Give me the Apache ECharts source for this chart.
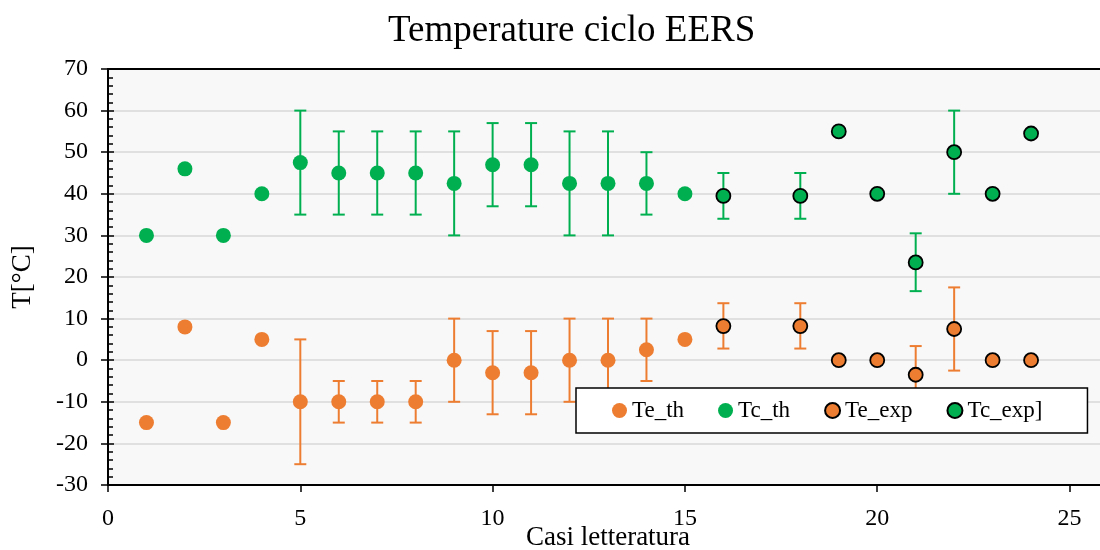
<!DOCTYPE html>
<html>
<head>
<meta charset="utf-8">
<script src="https://cdn.jsdelivr.net/npm/echarts@6/dist/echarts.min.js"></script>
<style>html,body{margin:0;padding:0;background:#fff}#c{width:1100px;height:550px}</style>
</head>
<body>
<div id="c"></div>
<script>
// x positions (case number), value, upper error end, lower error end (null = no error bar)
const teThX   = [1, 2, 3, 4, 5, 6, 7, 8, 9, 10, 11, 12, 13, 14, 15];
const teThY   = [-15, 8, -15, 5, -10, -10, -10, -10, 0, -3, -3, 0, 0, 2.5, 5];
const teThHi  = [null, null, null, null, 5, -5, -5, -5, 10, 7, 7, 10, 10, 10, null];
const teThLo  = [null, null, null, null, -25, -15, -15, -15, -10, -13, -13, -10, -10, -5, null];

const tcThX   = [1, 2, 3, 4, 5, 6, 7, 8, 9, 10, 11, 12, 13, 14, 15];
const tcThY   = [30, 46, 30, 40, 47.5, 45, 45, 45, 42.5, 47, 47, 42.5, 42.5, 42.5, 40];
const tcThHi  = [null, null, null, null, 60, 55, 55, 55, 55, 57, 57, 55, 55, 50, null];
const tcThLo  = [null, null, null, null, 35, 35, 35, 35, 30, 37, 37, 30, 30, 35, null];

const teExpX  = [16, 18, 19, 20, 21, 22, 23, 24];
const teExpY  = [8.2, 8.2, 0, 0, -3.5, 7.5, 0, 0];
const teExpHi = [13.7, 13.7, null, null, 3.4, 17.5, null, null];
const teExpLo = [2.8, 2.8, null, null, -10.4, -2.5, null, null];

const tcExpX  = [16, 18, 19, 20, 21, 22, 23, 24];
const tcExpY  = [39.5, 39.5, 55, 40, 23.5, 50, 40, 54.5];
const tcExpHi = [45, 45, null, null, 30.5, 60, null, null];
const tcExpLo = [34, 34, null, null, 16.6, 40, null, null];

const seriesNames = ['Te_th', 'Tc_th', 'Te_exp', 'Tc_exp]'];
const yTicks = {min: -30, max: 70, interval: 10};
const xTicks = {min: 0, max: 26, interval: 5};

const ORANGE = '#ED7D31', GREEN = '#00B050';
const FONT = '"Liberation Serif", "Times New Roman", serif';

function pts(xs, ys) { return xs.map((x, i) => [x, ys[i]]); }
function errs(xs, hi, lo) {
  const out = [];
  xs.forEach((x, i) => { if (hi[i] !== null) out.push([x, lo[i], hi[i]]); });
  return out;
}
function errSeries(data, color) {
  return {
    type: 'custom', data: data, z: 1, silent: true,
    renderItem: function (params, api) {
      const x = api.value(0);
      const p1 = api.coord([x, api.value(1)]);
      const p2 = api.coord([x, api.value(2)]);
      const w = 6;
      const st = {stroke: color, lineWidth: 2};
      return {type: 'group', children: [
        {type: 'line', shape: {x1: p1[0], y1: p1[1], x2: p2[0], y2: p2[1]}, style: st},
        {type: 'line', shape: {x1: p1[0]-w, y1: p1[1], x2: p1[0]+w, y2: p1[1]}, style: st},
        {type: 'line', shape: {x1: p2[0]-w, y1: p2[1], x2: p2[0]+w, y2: p2[1]}, style: st}
      ]};
    }
  };
}
function scatter(name, data, color, bordered) {
  return {
    name: name, type: 'scatter', data: data, z: 5,
    symbol: 'circle', symbolSize: bordered ? 14 : 15,
    itemStyle: bordered ? {color: color, borderColor: '#000', borderWidth: 1.8, opacity: 1}
                        : {color: color, opacity: 1}
  };
}

const chart = echarts.init(document.getElementById('c'), null, {renderer: 'canvas'});
chart.setOption({
  animation: false,
  backgroundColor: '#fff',
  textStyle: {fontFamily: FONT},
  title: {
    text: 'Temperature ciclo EERS', left: 383, top: 8,
    textStyle: {fontFamily: FONT, fontSize: 37, fontWeight: 'normal', color: '#000'}
  },
  grid: {
    left: 108, top: 69, bottom: 65, right: -8,
    containLabel: false, outerBoundsMode: 'none',
    show: true, backgroundColor: '#f8f8f8', borderColor: '#000', borderWidth: 2
  },
  legend: {
    data: seriesNames,
    left: 576, top: 388,
    backgroundColor: '#fff', borderColor: '#000', borderWidth: 1.5, borderRadius: 0,
    padding: [11, 45, 11, 36],
    itemGap: 34, itemWidth: 15, itemHeight: 15,
    icon: 'circle',
    textStyle: {fontFamily: FONT, fontSize: 23, color: '#000'}
  },
  xAxis: [{
    type: 'value', min: xTicks.min, max: xTicks.max, interval: xTicks.interval,
    name: 'Casi letteratura', nameLocation: 'middle', nameGap: 39, nameMoveOverlap: false,
    nameTextStyle: {fontFamily: FONT, fontSize: 27, color: '#000', verticalAlign: 'top'},
    axisLine: {onZero: false, lineStyle: {color: '#000', width: 2}},
    axisTick: {show: true, length: 7, lineStyle: {color: '#000', width: 1.5}},
    axisLabel: {fontFamily: FONT, fontSize: 24, color: '#000', margin: 22,
      formatter: function (v) { return v > 25 ? '' : v; }},
    splitLine: {show: false}
  }, {
    type: 'value', position: 'top', min: xTicks.min, max: xTicks.max, interval: xTicks.interval,
    axisLine: {show: true, onZero: false, lineStyle: {color: '#000', width: 2}},
    axisTick: {show: false}, axisLabel: {show: false}, splitLine: {show: false}
  }],
  yAxis: [{
    type: 'value', min: yTicks.min, max: yTicks.max, interval: yTicks.interval,
    name: 'T[°C]', nameLocation: 'middle', nameGap: 72, nameMoveOverlap: false,
    nameTextStyle: {fontFamily: FONT, fontSize: 27, color: '#000'},
    axisLine: {show: true, onZero: false, lineStyle: {color: '#000', width: 2}},
    axisTick: {show: true, length: 7, lineStyle: {color: '#000', width: 1.5}},
    axisLabel: {fontFamily: FONT, fontSize: 24, color: '#000', margin: 20},
    splitLine: {show: true, showMinLine: false, showMaxLine: false, lineStyle: {color: '#d9d9d9', width: 1.5}}
  }, {
    type: 'value', position: 'left', min: yTicks.min, max: yTicks.max, interval: yTicks.interval,
    axisLine: {show: false},
    axisTick: {show: true, inside: true, length: 6, lineStyle: {color: '#000', width: 1.5}},
    minorTick: {show: true, splitNumber: 5, length: 5, lineStyle: {color: '#000', width: 1.5}},
    axisLabel: {show: false},
    splitLine: {show: false}
  }],
  series: [
    errSeries(errs(teThX, teThHi, teThLo), ORANGE),
    errSeries(errs(tcThX, tcThHi, tcThLo), GREEN),
    errSeries(errs(teExpX, teExpHi, teExpLo), ORANGE),
    errSeries(errs(tcExpX, tcExpHi, tcExpLo), GREEN),
    scatter(seriesNames[0], pts(teThX, teThY), ORANGE, false),
    scatter(seriesNames[1], pts(tcThX, tcThY), GREEN, false),
    scatter(seriesNames[2], pts(teExpX, teExpY), ORANGE, true),
    scatter(seriesNames[3], pts(tcExpX, tcExpY), GREEN, true)
  ]
});
</script>
</body>
</html>
